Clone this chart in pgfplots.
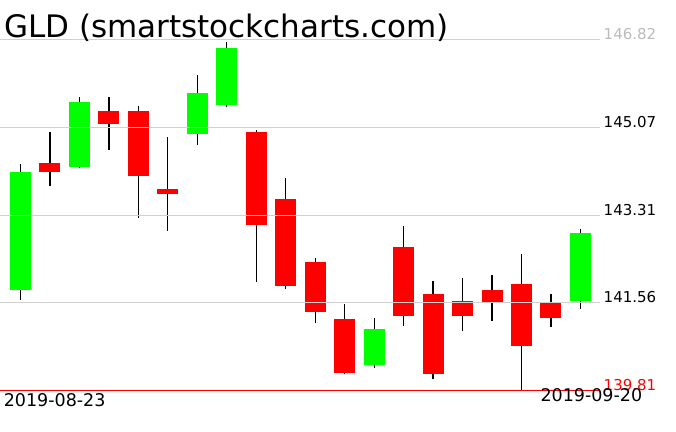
\documentclass[border=0pt]{standalone}
\usepackage{pgfplots}
\pgfplotsset{compat=1.18}
\usepackage{pgfplotstable}
\usepackage{fontspec}
\setmainfont{DejaVu Sans}
\definecolor{upgreen}{HTML}{00FF00}
\definecolor{downred}{HTML}{FF0000}
\definecolor{gridgray}{HTML}{D0D0D0}

% i open high low close
\pgfplotstableread{
i  o      h      l      c
0  141.82 144.33 141.62 144.18
2  144.28 145.67 144.26 145.57
6  144.94 146.13 144.72 145.75
7  145.52 146.78 145.48 146.66
12 140.31 141.25 140.26 141.03
19 141.60 143.03 141.44 142.95
}\upcandles
\pgfplotstableread{
i  o      h      l      c
1  144.35 144.97 143.90 144.18
3  145.39 145.67 144.62 145.14
4  145.39 145.49 143.26 144.10
5  143.83 144.87 143.00 143.74
8  144.97 145.01 141.98 143.12
9  143.63 144.05 141.84 141.90
10 142.37 142.45 141.16 141.38
11 141.23 141.53 140.14 140.15
13 142.67 143.09 141.09 141.29
14 141.73 141.99 140.04 140.14
15 141.60 142.05 141.00 141.29
16 141.81 142.11 141.20 141.57
17 141.93 142.53 139.81 140.70
18 141.55 141.73 141.08 141.26
}\downcandles

\begin{document}
\begin{tikzpicture}
\useasboundingbox (0pt,0pt) rectangle (676pt,431pt);
\begin{axis}[
    at={(0pt,41pt)}, anchor=south west,
    scale only axis, width=600pt, height=350pt,
    xmin=-0.6956, xmax=19.664,
    ymin=139.81, ymax=146.82,
    clip=false,
    axis line style={draw=none},
    xtick=\empty,
    ytick={141.56,143.31,145.07,146.82},
    yticklabels={},
    major tick length=0pt,
    ymajorgrids=true,
    grid style={gridgray, line width=1pt},
    axis on top,
    wick/.style={draw=none, mark=none,
        error bars/.cd, y dir=both, y explicit, error mark=none,
        error bar style={draw=black, line width=1.2pt}},
    body/.style={draw=none, mark=none,
        error bars/.cd, y dir=both, y explicit, error mark=none,
        error bar style={draw=#1, line width=21pt}},
]
% wicks
\addplot[wick] table[x=i, y expr={(\thisrow{h}+\thisrow{l})/2},
    y error expr={(\thisrow{h}-\thisrow{l})/2}] {\upcandles};
\addplot[wick] table[x=i, y expr={(\thisrow{h}+\thisrow{l})/2},
    y error expr={(\thisrow{h}-\thisrow{l})/2}] {\downcandles};
% bodies
\addplot[body=upgreen] table[x=i, y expr={(\thisrow{o}+\thisrow{c})/2},
    y error expr={abs(\thisrow{c}-\thisrow{o})/2}] {\upcandles};
\addplot[body=downred] table[x=i, y expr={(\thisrow{o}+\thisrow{c})/2},
    y error expr={abs(\thisrow{c}-\thisrow{o})/2}] {\downcandles};
% bottom line
\addplot[downred, line width=1pt] coordinates {(-0.6956,139.81) (19.664,139.81)};

% price labels
\begin{scope}[every node/.style={anchor=base west, inner sep=0pt, font=\fontsize{15}{15}\selectfont}]
\node[text=gridgray!90!black] at ([xshift=3.5pt]axis cs:19.664,146.82) {146.82};
\node at ([xshift=3.5pt]axis cs:19.664,145.07) {145.07};
\node at ([xshift=3.5pt]axis cs:19.664,143.31) {143.31};
\node at ([xshift=3.5pt]axis cs:19.664,141.56) {141.56};
\node[text=downred] at ([xshift=3.5pt]axis cs:19.664,139.81) {139.81};
\end{scope}
\end{axis}
\node[anchor=base west, inner sep=0pt, font=\fontsize{31}{31}\selectfont] at (4pt,393pt) {GLD (smartstockcharts.com)};
\node[anchor=base west, inner sep=0pt, font=\fontsize{17.5}{17.5}\selectfont] at (3.6pt,25pt) {2019-08-23};
\node[anchor=base west, inner sep=0pt, font=\fontsize{17.5}{17.5}\selectfont] at (540.3pt,30pt) {2019-09-20};
\end{tikzpicture}
\end{document}
